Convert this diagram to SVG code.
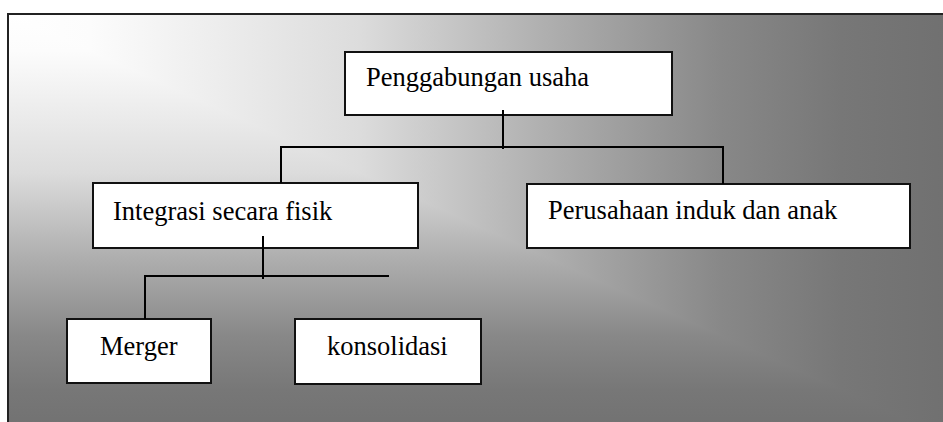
<svg xmlns="http://www.w3.org/2000/svg" width="943" height="422" viewBox="0 0 943 422">
  <defs>
    <linearGradient id="gh" gradientUnits="userSpaceOnUse" x1="8" y1="0" x2="952" y2="0">
      <stop offset="0" stop-color="#ffffff"/>
      <stop offset="0.087" stop-color="#fcfcfc"/>
      <stop offset="0.373" stop-color="#dcdcdc"/>
      <stop offset="0.565" stop-color="#b0b0b0"/>
      <stop offset="0.755" stop-color="#888888"/>
      <stop offset="0.883" stop-color="#777777"/>
      <stop offset="1" stop-color="#707070"/>
    </linearGradient>
    <linearGradient id="gv" gradientUnits="userSpaceOnUse" x1="0" y1="14" x2="0" y2="440">
      <stop offset="0" stop-color="#ffffff"/>
      <stop offset="0.087" stop-color="#fcfcfc"/>
      <stop offset="0.373" stop-color="#dcdcdc"/>
      <stop offset="0.565" stop-color="#b0b0b0"/>
      <stop offset="0.755" stop-color="#888888"/>
      <stop offset="0.883" stop-color="#777777"/>
      <stop offset="1" stop-color="#707070"/>
    </linearGradient>
  </defs>
  <style>
    .box { fill: #ffffff; stroke: #111111; stroke-width: 2; }
    .lbl { font-size: 26.5px; fill: #000000; }
    .con { stroke: #000000; stroke-width: 2; fill: none; }
  </style>
  <rect x="0" y="0" width="943" height="422" fill="#ffffff"/>
  <g id="background">
    <rect x="8" y="14" width="944" height="426" fill="url(#gh)"/>
    <polygon points="8,14 952,440 8,440" fill="url(#gv)"/>
    <rect x="8" y="14" width="950" height="440" fill="none" stroke="#222222" stroke-width="2"/>
  </g>
  <g id="node-penggabungan">
    <rect class="box" x="345" y="52" width="327" height="63"/>
    <text class="lbl" font-family="'Liberation Serif', 'DejaVu Serif', serif" x="366" y="86">Penggabungan usaha</text>
  </g>
  <g id="node-integrasi">
    <rect class="box" x="93" y="183" width="325" height="65"/>
    <text class="lbl" font-family="'Liberation Serif', 'DejaVu Serif', serif" x="113" y="220">Integrasi secara fisik</text>
  </g>
  <g id="node-perusahaan">
    <rect class="box" x="527" y="184" width="383" height="64"/>
    <text class="lbl" font-family="'Liberation Serif', 'DejaVu Serif', serif" x="548" y="219">Perusahaan induk dan anak</text>
  </g>
  <g id="node-merger">
    <rect class="box" x="67" y="319" width="144" height="64"/>
    <text class="lbl" font-family="'Liberation Serif', 'DejaVu Serif', serif" x="100" y="355">Merger</text>
  </g>
  <g id="node-konsolidasi">
    <rect class="box" x="295" y="319" width="186" height="65"/>
    <text class="lbl" font-family="'Liberation Serif', 'DejaVu Serif', serif" x="327" y="355">konsolidasi</text>
  </g>
  <g id="connectors">
    <line class="con" x1="503" y1="110" x2="503" y2="149"/>
    <polyline class="con" points="281,183 281,147 723,147 723,184"/>
    <line class="con" x1="263" y1="236" x2="263" y2="279"/>
    <polyline class="con" points="145,319 145,276 389,276"/>
  </g>
</svg>
